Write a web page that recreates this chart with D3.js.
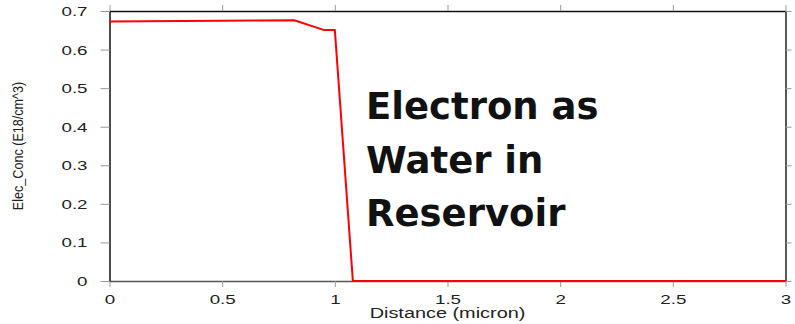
<!DOCTYPE html>
<html>
<head>
<meta charset="utf-8">
<script src="https://cdn.jsdelivr.net/npm/d3@7"></script>
<style>
  html, body { margin: 0; padding: 0; background: #fff; }
  svg { display: block; }
</style>
</head>
<body>
<svg id="chart" width="795" height="324"></svg>
<script>
// Electron concentration profile along the device
const distance = [0, 0.82, 0.95, 1.0, 1.08, 3.0];          // micron
const elecConc = [0.673, 0.676, 0.651, 0.651, 0, 0];        // E18/cm^3
const xTicks = [0, 0.5, 1, 1.5, 2, 2.5, 3];
const yTicks = [0, 0.1, 0.2, 0.3, 0.4, 0.5, 0.6, 0.7];
const xTitle = "Distance (micron)";
const yTitle = "Elec_Conc (E18/cm^3)";
const noteLines = ["Electron as", "Water in", "Reservoir"];

const svg = d3.select("#chart");
const plotLeft = 109.5, plotRight = 785.5, plotTop = 11, plotBottom = 281;

const x = d3.scaleLinear().domain([0, 3]).range([plotLeft, plotRight]);
const y = d3.scaleLinear().domain([0, 0.7]).range([plotBottom, plotTop]);
const fmt = d3.format("~g");
const tickFont = "'Liberation Sans', Arial, sans-serif";
const stretch = 1.5;

function styleAxis(g, domainColor) {
  g.select(".domain").attr("stroke", domainColor).attr("stroke-width", 1.5);
  g.selectAll(".tick line").attr("stroke", "#9a9a9a").attr("stroke-width", 1);
}

// bottom axis with labels
const gx = svg.append("g").attr("transform", `translate(0,${plotBottom})`)
  .call(d3.axisBottom(x).tickValues(xTicks).tickFormat(fmt).tickSize(6).tickSizeOuter(0));
styleAxis(gx, "#555");
gx.selectAll(".tick text")
  .attr("y", 23).attr("dy", 0).attr("x", 0)
  .attr("transform", `scale(${stretch},1)`)
  .attr("font-family", tickFont).attr("font-size", 12.5).attr("fill", "#222");

// left axis with labels
const gy = svg.append("g").attr("transform", `translate(${plotLeft},0)`)
  .call(d3.axisLeft(y).tickValues(yTicks).tickFormat(fmt).tickSize(9).tickSizeOuter(0));
styleAxis(gy, "#111");
gy.selectAll(".tick text")
  .attr("x", -22 / stretch).attr("dy", "0.36em")
  .attr("transform", `scale(${stretch},1)`)
  .attr("font-family", tickFont).attr("font-size", 12.5).attr("fill", "#222");

// mirrored top and right axes, ticks only
const gt = svg.append("g").attr("transform", `translate(0,${plotTop})`)
  .call(d3.axisTop(x).tickValues(xTicks).tickFormat("").tickSize(6).tickSizeOuter(0));
styleAxis(gt, "#111");
const gr = svg.append("g").attr("transform", `translate(${plotRight},0)`)
  .call(d3.axisRight(y).tickValues(yTicks).tickFormat("").tickSize(6).tickSizeOuter(0));
styleAxis(gr, "#222");

// axis titles
svg.append("text")
  .attr("transform", `translate(${(plotLeft + plotRight) / 2},318) scale(1.42,1)`)
  .attr("text-anchor", "middle")
  .attr("font-family", tickFont).attr("font-size", 14).attr("fill", "#222")
  .text(xTitle);

svg.append("text")
  .attr("transform", `translate(23,${(plotTop + plotBottom) / 2}) rotate(-90) scale(0.9,1)`)
  .attr("text-anchor", "middle")
  .attr("font-family", tickFont).attr("font-size", 14).attr("fill", "#222")
  .text(yTitle);

// concentration curve
const line = d3.line().x((d, i) => x(distance[i])).y(d => y(d));
svg.append("path")
  .datum(elecConc)
  .attr("d", line)
  .attr("fill", "none")
  .attr("stroke", "#ff0000")
  .attr("stroke-width", 2)
  .attr("stroke-linejoin", "round");

// annotation
const note = svg.append("text")
  .attr("font-family", "'DejaVu Sans', Verdana, sans-serif")
  .attr("font-weight", "bold").attr("font-size", 37).attr("fill", "#111");
noteLines.forEach((t, i) => {
  note.append("tspan").attr("x", 366).attr("y", 119 + i * 53.5).text(t);
});
</script>
</body>
</html>
